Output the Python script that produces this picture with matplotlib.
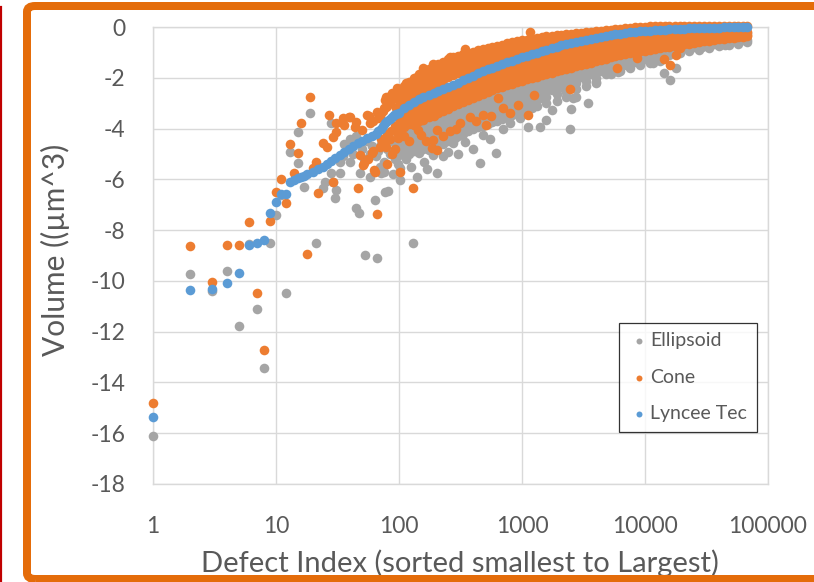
import matplotlib
matplotlib.use("Agg")
import matplotlib.pyplot as plt
from matplotlib.lines import Line2D
from matplotlib.patches import FancyBboxPatch
from matplotlib.ticker import NullLocator

plt.rcParams["font.family"] = ["Lato", "DejaVu Sans"]

# ---- data -----------------------------------------------------------------
x_ticks = [1, 10, 100, 1000, 10000, 100000]
x_tick_labels = ["1", "10", "100", "1000", "10000", "100000"]
y_ticks = [0, -2, -4, -6, -8, -10, -12, -14, -16, -18]

# Lyncee Tec (blue) - single smooth curve
lyncee_idx = [1, 2, 3, 4, 5, 6, 7, 8, 9, 10, 11, 12, 13, 14, 15, 16, 17, 18, 20, 22, 24,
              26, 28, 30, 33, 36, 39, 42, 46, 50, 55, 60, 65, 68, 71, 74, 77, 80, 84, 87,
              91, 95]
lyncee_vol = [-15.35, -10.35, -10.33, -10.1, -9.7, -8.58, -8.49, -8.4, -7.31, -6.88, -6.59,
              -6.59, -6.09, -6.02, -5.96, -5.9, -5.85, -5.8, -5.7, -5.6, -5.5, -5.4, -5.28,
              -5.16, -5.05, -4.93, -4.8, -4.7, -4.58, -4.48, -4.38, -4.3, -4.2, -4.1, -4.0,
              -3.9, -3.8, -3.72, -3.62, -3.55, -3.48, -3.42]

# dense part of the plot (index >= 100): one column of points per index
band_idx = [100, 110, 120, 132, 145, 158, 174, 191, 209, 229, 251, 275, 302, 331, 363,
            398, 437, 479, 525, 575, 631, 692, 759, 832, 912, 1000, 1100, 1200, 1320, 1450,
            1580, 1740, 1910, 2090, 2290, 2510, 2750, 3020, 3310, 3630, 3980, 4370, 4790,
            5250, 5750, 6310, 6920, 7590, 8320, 9120, 10000, 11000, 12000, 13200, 14500,
            15800, 17400, 19100, 20900, 22900, 25100, 27500, 30200, 33100, 36300, 39800,
            43700, 47900, 52500, 57500, 63100, 67000]
lyncee_band = [-3.37, -3.2, -3.06, -2.94, -2.84, -2.75, -2.67, -2.59, -2.51, -2.43, -2.35,
               -2.27, -2.19, -2.1, -2.01, -1.92, -1.83, -1.75, -1.67, -1.6, -1.53, -1.46,
               -1.39, -1.32, -1.25, -1.19, -1.13, -1.07, -1.01, -0.95, -0.89, -0.83, -0.77,
               -0.72, -0.67, -0.62, -0.58, -0.54, -0.5, -0.46, -0.42, -0.38, -0.35, -0.32,
               -0.29, -0.26, -0.23, -0.21, -0.19, -0.17, -0.15, -0.14, -0.12, -0.11, -0.1,
               -0.09, -0.08, -0.07, -0.06, -0.05, -0.05, -0.04, -0.03, -0.03, -0.02, -0.02,
               -0.01, -0.01, -0.01, 0.0, 0.0, 0.0]

cone_band = [
    [-2.45, -2.68, -2.9, -3.12, -3.62, -3.85, -4.1],
    [-2.32, -2.55, -2.78, -2.98, -3.45, -3.7, -3.92],
    [-2.15, -2.38, -2.6, -2.82, -3.3, -3.55, -3.82],
    [-2.02, -2.25, -2.48, -2.7, -3.18, -3.42, -3.65, -3.85],
    [-1.85, -2.08, -2.3, -2.55, -3.08, -3.3, -3.52, -3.72],
    [-1.76, -1.98, -2.2, -2.45, -2.98, -3.2, -3.42, -3.65],
    [-1.65, -1.88, -2.1, -2.35, -2.9, -3.12, -3.35, -3.55],
    [-1.56, -1.78, -2.0, -2.25, -2.82, -3.05, -3.28, -3.5],
    [-1.45, -1.68, -1.9, -2.15, -2.73, -2.95, -3.18, -3.4],
    [-1.38, -1.6, -1.82, -2.07, -2.65, -2.88, -3.1, -3.32],
    [-1.28, -1.5, -1.72, -1.98, -2.57, -2.8, -3.02, -3.22],
    [-1.2, -1.42, -1.65, -1.9, -2.5, -2.72, -2.95, -3.12],
    [-1.13, -1.35, -1.58, -1.82, -2.42, -2.64, -2.86, -3.02],
    [-1.07, -1.28, -1.5, -1.73, -2.33, -2.55, -2.75, -2.95],
    [-1.02, -1.22, -1.43, -1.65, -2.25, -2.47, -2.68, -2.88],
    [-0.97, -1.17, -1.38, -1.58, -2.15, -2.37, -2.58, -2.78],
    [-0.92, -1.12, -1.32, -1.5, -2.07, -2.28, -2.5, -2.7],
    [-0.87, -1.07, -1.27, -1.45, -1.98, -2.2, -2.42, -2.63],
    [-0.82, -1.02, -1.22, -1.4, -1.9, -2.12, -2.35, -2.55],
    [-0.77, -0.97, -1.16, -1.35, -1.83, -2.05, -2.27, -2.48],
    [-0.73, -0.92, -1.1, -1.3, -1.76, -1.98, -2.2, -2.42],
    [-0.69, -0.88, -1.06, -1.24, -1.7, -1.92, -2.14, -2.36],
    [-0.64, -0.82, -1.0, -1.17, -1.63, -1.85, -2.07, -2.3],
    [-0.6, -0.78, -0.95, -1.1, -1.56, -1.78, -2.0, -2.24],
    [-0.56, -0.73, -0.9, -1.05, -1.5, -1.72, -1.95, -2.18],
    [-0.53, -0.7, -0.86, -0.98, -1.43, -1.65, -1.88, -2.12],
    [-0.5, -0.66, -0.82, -0.93, -1.38, -1.6, -1.82, -2.06],
    [-0.46, -0.62, -0.78, -0.87, -1.32, -1.54, -1.76, -2.0],
    [-0.43, -0.6, -0.77, -1.26, -1.48, -1.7, -1.95],
    [-0.4, -0.56, -0.73, -1.2, -1.42, -1.64, -1.9],
    [-0.37, -0.52, -0.67, -1.14, -1.36, -1.6, -1.85],
    [-0.35, -0.5, -0.62, -1.08, -1.3, -1.55, -1.8],
    [-0.32, -0.47, -0.57, -1.02, -1.25, -1.5, -1.75],
    [-0.3, -0.45, -0.52, -0.97, -1.2, -1.45, -1.7],
    [-0.28, -0.45, -0.92, -1.15, -1.4, -1.65],
    [-0.26, -0.4, -0.87, -1.1, -1.35, -1.6],
    [-0.24, -0.38, -0.83, -1.06, -1.3, -1.55],
    [-0.22, -0.34, -0.79, -1.02, -1.26, -1.5],
    [-0.2, -0.3, -0.75, -0.98, -1.22, -1.45],
    [-0.18, -0.27, -0.71, -0.94, -1.17, -1.4],
    [-0.16, -0.67, -0.9, -1.12, -1.35],
    [-0.14, -0.63, -0.86, -1.08, -1.3],
    [-0.12, -0.6, -0.82, -1.03, -1.25],
    [-0.1, -0.57, -0.78, -0.99, -1.2],
    [-0.08, -0.54, -0.75, -0.95, -1.15],
    [-0.06, -0.51, -0.71, -0.91, -1.11],
    [-0.04, -0.48, -0.68, -0.88, -1.07],
    [-0.02, -0.46, -0.65, -0.84, -1.03],
    [-0.01, -0.44, -0.63, -0.82, -1.0],
    [0.0, -0.42, -0.6, -0.78, -0.96],
    [0.0, -0.4, -0.58, -0.76, -0.93],
    [0.02, -0.39, -0.56, -0.73, -0.9],
    [0.02, -0.37, -0.54, -0.7, -0.87],
    [0.03, -0.36, -0.52, -0.68, -0.84],
    [0.03, -0.35, -0.5, -0.65, -0.8],
    [0.04, -0.34, -0.48, -0.62, -0.77],
    [0.04, -0.33, -0.47, -0.6, -0.74],
    [0.05, -0.32, -0.45, -0.58, -0.71],
    [0.05, -0.31, -0.43, -0.55, -0.68],
    [0.05, -0.3, -0.42, -0.53, -0.65],
    [0.05, -0.3, -0.41, -0.51, -0.62],
    [0.05, -0.29, -0.39, -0.49, -0.59],
    [0.05, -0.28, -0.37, -0.46, -0.56],
    [0.05, -0.28, -0.36, -0.45, -0.54],
    [0.05, -0.27, -0.35, -0.43, -0.51],
    [0.05, -0.26, -0.34, -0.41, -0.49],
    [0.05, -0.25, -0.32, -0.39, -0.46],
    [0.05, -0.25, -0.31, -0.37, -0.44],
    [0.05, -0.24, -0.3, -0.36, -0.42],
    [0.05, -0.23, -0.29, -0.35, -0.4],
    [0.05, -0.22, -0.28, -0.33, -0.38],
    [0.05, -0.2, -0.3, -0.36],
]

ellipsoid_band = [
    [-4.0, -4.3, -4.55, -4.8, -5.05],
    [-4.15, -4.4, -4.7, -4.95],
    [-3.95, -4.2, -4.5, -4.75, -5.0],
    [-4.05, -4.35, -4.6, -4.9],
    [-3.9, -4.15, -4.45, -4.7, -4.95],
    [-3.95, -4.2, -4.5, -4.8],
    [-3.8, -4.05, -4.3, -4.6, -4.85],
    [-3.75, -4.0, -4.25, -4.5, -4.78],
    [-3.65, -3.9, -4.15, -4.4, -4.65],
    [-3.55, -3.8, -4.05, -4.3, -4.6],
    [-3.45, -3.7, -3.95, -4.2, -4.5],
    [-3.35, -3.6, -3.85, -4.1, -4.4],
    [-3.25, -3.5, -3.75, -4.0, -4.3],
    [-3.18, -3.42, -3.65, -3.9, -4.2],
    [-3.1, -3.35, -3.6, -3.85, -4.1],
    [-3.0, -3.25, -3.5, -3.75, -4.0],
    [-2.95, -3.2, -3.42, -3.68, -3.95],
    [-2.85, -3.1, -3.35, -3.6, -3.88],
    [-2.8, -3.05, -3.3, -3.55, -3.82],
    [-2.72, -2.97, -3.22, -3.47, -3.75],
    [-2.65, -2.9, -3.15, -3.4, -3.7],
    [-2.6, -2.85, -3.1, -3.35, -3.62],
    [-2.52, -2.77, -3.0, -3.25, -3.55],
    [-2.47, -2.7, -2.95, -3.2, -3.45],
    [-2.4, -2.63, -2.88, -3.12, -3.4],
    [-2.35, -2.58, -2.8, -3.05, -3.3],
    [-2.28, -2.5, -2.73, -2.98, -3.25],
    [-2.22, -2.45, -2.68, -2.92, -3.18],
    [-2.17, -2.4, -2.62, -2.85, -3.1],
    [-2.12, -2.35, -2.57, -2.8],
    [-2.07, -2.3, -2.52, -2.75, -3.0],
    [-2.02, -2.25, -2.47],
    [-1.97, -2.2, -2.42, -2.65, -2.9],
    [-1.92, -2.15, -2.37],
    [-1.87, -2.1, -2.32, -2.55, -2.75],
    [-1.82, -2.05, -2.27],
    [-1.77, -2.0, -2.22, -2.45],
    [-1.72, -1.95],
    [-1.67, -1.9, -2.12, -2.32],
    [-1.62, -1.85],
    [-1.55, -1.78, -2.0, -2.18],
    [-1.5, -1.72],
    [-1.45, -1.66, -1.86],
    [-1.4, -1.62, -1.85],
    [-1.35, -1.56],
    [-1.3, -1.5, -1.72],
    [-1.26, -1.45],
    [-1.22, -1.42, -1.62],
    [-1.18, -1.36],
    [-1.14, -1.32, -1.5],
    [-1.1, -1.28],
    [-1.06, -1.24, -1.42],
    [-1.03, -1.2],
    [-1.0, -1.16, -1.33],
    [-0.96, -1.12],
    [-0.93, -1.1],
    [-0.9, -1.05],
    [-0.87, -1.02],
    [-0.84],
    [-0.81, -0.96],
    [-0.78],
    [-0.75, -0.9],
    [-0.72],
    [-0.7, -0.83],
    [-0.67],
    [-0.64, -0.76],
    [-0.61],
    [-0.58, -0.7],
    [-0.56],
    [-0.54, -0.65],
    [-0.52],
    [-0.5, -0.6],
]

# scattered points (outside the dense band)
cone_idx = [1, 2, 3, 4, 5, 6, 7, 8, 9, 10, 11, 12, 13, 14, 15, 16, 18, 19, 20, 21, 22, 24,
            26, 27, 29, 29, 31, 31, 35, 36, 39, 40, 44, 45, 46, 48, 51, 52, 55, 57, 60, 62,
            63, 64, 66, 66, 70, 77, 79, 82, 96, 50, 58, 62, 68, 72, 75, 80, 85, 88, 92, 95,
            98, 85, 75, 88, 92, 80, 79, 98, 56, 102, 130, 184, 203, 190, 143, 203, 510, 312,
            377, 484, 640, 935, 1120, 1260, 2460, 5880, 8550, 14400, 15900, 18000, 19300,
            1170, 344, 158, 190, 259, 454, 115, 139, 110, 120, 150, 165, 230, 260, 290, 420,
            560, 700, 800, 70, 74, 78, 83, 87, 91, 95, 72, 80, 86, 93]
cone_vol = [-14.8, -8.63, -10.03, -8.6, -8.6, -7.7, -10.48, -12.72, -7.65, -6.48, -5.98,
            -6.94, -4.6, -5.76, -4.97, -3.79, -8.94, -2.74, -5.56, -5.3, -6.52, -4.58, -4.71,
            -3.46, -4.32, -6.09, -3.79, -4.12, -3.6, -3.85, -3.53, -3.56, -3.92, -3.73, -6.33,
            -5.04, -5.43, -5.37, -3.46, -3.5, -4.97, -4.9, -5.63, -5.72, -7.36, -3.33, -4.71,
            -2.87, -2.74, -2.74, -2.41, -4.05, -3.8, -3.7, -3.6, -3.4, -3.2, -3.1, -3.0, -2.6,
            -2.8, -3.2, -4.2, -4.4, -4.6, -5.0, -4.8, -5.4, -4.71, -4.38, -5.2, -5.7, -6.35,
            -4.78, -4.84, -4.45, -4.06, -4.06, -3.86, -3.79, -3.53, -3.46, -2.81, -3.07,
            -3.46, -2.68, -2.45, -1.63, -1.23, -1.27, -1.5, -1.1, -0.84, -0.18, -0.88, -1.6,
            -1.45, -1.2, -0.95, -2.2, -1.95, -4.3, -4.5, -4.25, -4.5, -4.3, -4.1, -4.0, -3.7,
            -3.5, -3.2, -3.4, -3.5, -3.3, -3.15, -2.95, -2.8, -2.65, -2.55, -4.4, -4.2, -4.1,
            -3.9]

ellipsoid_idx = [1, 2, 3, 4, 5, 6, 7, 8, 9, 10, 11, 12, 13, 15, 15, 17, 19, 21, 24, 25, 28,
                 28, 29, 30, 31, 33, 33, 45, 47, 48, 53, 58, 64, 66, 72, 75, 77, 82, 101, 102,
                 126, 130, 36, 40, 42, 45, 50, 52, 55, 58, 60, 65, 68, 72, 75, 80, 85, 88, 92,
                 95, 98, 40, 35, 70, 90, 203, 454, 610, 228, 189, 250, 276, 285, 344, 484, 960,
                 1120, 1400, 1580, 2460, 2520, 2600, 3460, 1740, 4000, 4530, 6000, 7000, 11600,
                 14400, 15900, 18000, 21800, 29000, 45000, 40000, 67000, 2770, 2700, 160, 140,
                 115, 170, 300, 400, 550, 700, 800]
ellipsoid_vol = [-16.1, -9.72, -10.4, -9.63, -11.77, -8.54, -11.1, -13.43, -8.49, -7.4, -6.6,
                 -10.46, -4.91, -4.12, -5.37, -6.31, -3.4, -8.52, -6.35, -6.09, -3.79, -5.76,
                 -6.09, -6.74, -6.42, -5.3, -5.76, -7.14, -7.33, -5.76, -8.98, -5.89, -6.81,
                 -9.11, -5.76, -5.7, -6.48, -6.44, -6.02, -5.56, -5.5, -8.52, -4.6, -4.4, -5.0,
                 -4.3, -4.8, -5.2, -4.5, -5.0, -4.7, -5.1, -4.9, -4.6, -5.3, -4.8, -5.0, -4.5,
                 -5.2, -4.7, -5.4, -5.3, -5.1, -5.5, -5.8, -5.76, -5.37, -4.95, -5.1, -5.04,
                 -4.91, -4.58, -4.38, -4.51, -4.25, -3.6, -3.92, -3.92, -3.66, -4.03, -3.24,
                 -2.81, -3.0, -3.27, -2.22, -1.69, -1.76, -1.5, -1.43, -1.8, -2.09, -1.63,
                 -0.71, -0.78, -0.71, -0.51, -0.25, -2.74, -2.39, -5.3, -5.9, -5.2, -5.6, -5.0,
                 -4.8, -4.4, -4.0, -3.8]

series_names = ["Ellipsoid", "Cone", "Lyncee Tec"]
series_colors = ["#A5A5A5", "#ED7D31", "#5B9BD5"]


def flatten(cols_idx, cols_vals):
    xs, ys = [], []
    for i, vals in zip(cols_idx, cols_vals):
        for v in vals:
            xs.append(i)
            ys.append(v)
    return xs, ys


ell_x, ell_y = flatten(band_idx, ellipsoid_band)
ell_x = ellipsoid_idx + ell_x
ell_y = ellipsoid_vol + ell_y
cone_x, cone_y = flatten(band_idx, cone_band)
cone_x = cone_idx + cone_x
cone_y = cone_vol + cone_y
lyn_x = lyncee_idx + band_idx
lyn_y = lyncee_vol + lyncee_band

# ---- figure ----------------------------------------------------------------
W, H = 814, 582
fig = plt.figure(figsize=(W / 100, H / 100), dpi=100)
ax = fig.add_axes([153 / W, 1 - 484 / H, 615 / W, 457 / H])

text_col = "#595959"
grid_col = "#D9D9D9"
ms = 48

for xs, ys, name, col, z in [
    (ell_x, ell_y, series_names[0], series_colors[0], 3),
    (cone_x, cone_y, series_names[1], series_colors[1], 4),
    (lyn_x, lyn_y, series_names[2], series_colors[2], 5),
]:
    ax.scatter(xs, ys, s=ms, color=col, linewidths=0, label=name, zorder=z, clip_on=False)

ax.set_xscale("log")
ax.set_xlim(1, 100000)
ax.set_ylim(-18, 0)
ax.set_xticks(x_ticks)
ax.set_xticklabels(x_tick_labels)
ax.xaxis.set_minor_locator(NullLocator())
ax.set_yticks(y_ticks)
ax.set_yticklabels([str(v) for v in y_ticks])

ax.grid(True, color=grid_col, linewidth=1.0)
ax.set_axisbelow(True)
for sp in ax.spines.values():
    sp.set_color(grid_col)
    sp.set_linewidth(1.0)
ax.tick_params(axis="both", length=0, labelsize=16.5, labelcolor=text_col)
ax.tick_params(axis="x", pad=23)
ax.tick_params(axis="y", pad=20)

fig.text(55 / W, 1 - 250 / H, "Volume ((µm^3)", rotation=90, ha="center", va="center",
         fontsize=21.5, color=text_col)
fig.text(460 / W, 1 - 563 / H, "Defect Index (sorted smallest to Largest)", ha="center",
         va="center", fontsize=21, color=text_col)

leg = ax.legend(loc="lower left", bbox_to_anchor=(0.758, 0.114), fontsize=14,
                frameon=True, fancybox=False, edgecolor="black", labelspacing=1.0,
                handletextpad=0.1, handlelength=1.0, borderpad=0.5, markerscale=0.62,
                labelcolor=text_col, borderaxespad=0)
leg.get_frame().set_linewidth(0.9)
leg.set_zorder(10)

# outer chart border (orange, rounded) and the red line at the far left
fig.patches.append(FancyBboxPatch((27 / W, 3 / H), 1.2, 573 / H,
                                  boxstyle="round,pad=0,rounding_size=0.01",
                                  transform=fig.transFigure, fill=False, edgecolor="#E46C0A",
                                  linewidth=8 * 0.72, zorder=20))
fig.lines.append(Line2D([1.2 / W, 1.2 / W], [0, 1 - 7 / H], transform=fig.transFigure,
                        color="#C00000", linewidth=2.2 * 0.72, zorder=20))

fig.savefig("out.png", dpi=100)
